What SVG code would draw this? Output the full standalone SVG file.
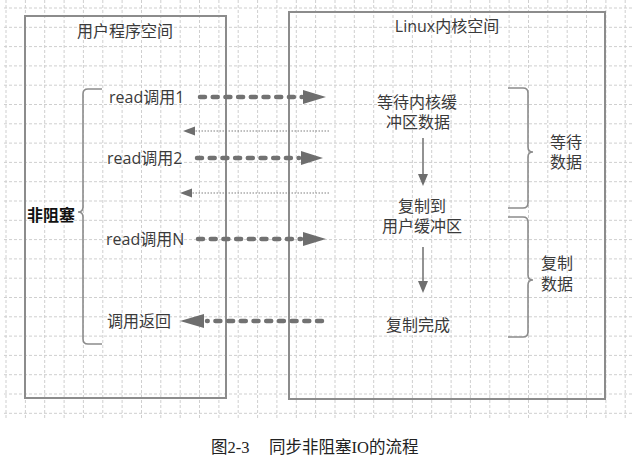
<svg xmlns="http://www.w3.org/2000/svg" width="640" height="461" viewBox="0 0 640 461">
<defs>
<style>
.grid line{stroke:#cfcfcf;stroke-width:1;stroke-dasharray:3,2}
.box{fill:none;stroke:#8c8c8c;stroke-width:2}
.t{font-family:"Open Sans","Noto Sans CJK SC",sans-serif;font-size:16px;fill:#3a3a3a;dominant-baseline:central}
.c{text-anchor:middle}
.b{font-weight:bold;fill:#111}
.thick{stroke:#727272;stroke-width:4.5;stroke-dasharray:5,7.7;stroke-linecap:round;fill:none}
.thin{stroke:#808080;stroke-width:1.2;stroke-dasharray:1.5,1.5;fill:none}
.head{fill:#6e6e6e}
.solid{stroke:#6e6e6e;stroke-width:1.5;fill:none}
.brace{fill:none;stroke:#8c8c8c;stroke-width:1.6}
.cap{font-family:"Liberation Serif","Noto Sans CJK SC",serif;font-size:16.5px;fill:#222}
</style>
</defs>
<rect width="640" height="461" fill="#fff"/>
<g class="grid" id="grid">
<line x1="6" y1="0" x2="6" y2="420"/><line x1="25.4" y1="0" x2="25.4" y2="420"/><line x1="44.7" y1="0" x2="44.7" y2="420"/><line x1="64.1" y1="0" x2="64.1" y2="420"/><line x1="83.4" y1="0" x2="83.4" y2="420"/><line x1="102.8" y1="0" x2="102.8" y2="420"/><line x1="122.1" y1="0" x2="122.1" y2="420"/><line x1="141.5" y1="0" x2="141.5" y2="420"/><line x1="160.8" y1="0" x2="160.8" y2="420"/><line x1="180.2" y1="0" x2="180.2" y2="420"/><line x1="199.5" y1="0" x2="199.5" y2="420"/><line x1="218.9" y1="0" x2="218.9" y2="420"/><line x1="238.2" y1="0" x2="238.2" y2="420"/><line x1="257.6" y1="0" x2="257.6" y2="420"/><line x1="276.9" y1="0" x2="276.9" y2="420"/><line x1="296.3" y1="0" x2="296.3" y2="420"/><line x1="315.6" y1="0" x2="315.6" y2="420"/><line x1="335" y1="0" x2="335" y2="420"/><line x1="354.3" y1="0" x2="354.3" y2="420"/><line x1="373.7" y1="0" x2="373.7" y2="420"/><line x1="393" y1="0" x2="393" y2="420"/><line x1="412.4" y1="0" x2="412.4" y2="420"/><line x1="431.7" y1="0" x2="431.7" y2="420"/><line x1="451.1" y1="0" x2="451.1" y2="420"/><line x1="470.4" y1="0" x2="470.4" y2="420"/><line x1="489.8" y1="0" x2="489.8" y2="420"/><line x1="509.1" y1="0" x2="509.1" y2="420"/><line x1="528.5" y1="0" x2="528.5" y2="420"/><line x1="547.8" y1="0" x2="547.8" y2="420"/><line x1="567.2" y1="0" x2="567.2" y2="420"/><line x1="586.5" y1="0" x2="586.5" y2="420"/><line x1="605.9" y1="0" x2="605.9" y2="420"/><line x1="625.2" y1="0" x2="625.2" y2="420"/>
<line x1="4" y1="8" x2="632" y2="8"/><line x1="4" y1="27.3" x2="632" y2="27.3"/><line x1="4" y1="46.6" x2="632" y2="46.6"/><line x1="4" y1="65.9" x2="632" y2="65.9"/><line x1="4" y1="85.2" x2="632" y2="85.2"/><line x1="4" y1="104.5" x2="632" y2="104.5"/><line x1="4" y1="123.8" x2="632" y2="123.8"/><line x1="4" y1="143.1" x2="632" y2="143.1"/><line x1="4" y1="162.4" x2="632" y2="162.4"/><line x1="4" y1="181.7" x2="632" y2="181.7"/><line x1="4" y1="201" x2="632" y2="201"/><line x1="4" y1="220.3" x2="632" y2="220.3"/><line x1="4" y1="239.6" x2="632" y2="239.6"/><line x1="4" y1="258.9" x2="632" y2="258.9"/><line x1="4" y1="278.2" x2="632" y2="278.2"/><line x1="4" y1="297.5" x2="632" y2="297.5"/><line x1="4" y1="316.8" x2="632" y2="316.8"/><line x1="4" y1="336.1" x2="632" y2="336.1"/><line x1="4" y1="355.4" x2="632" y2="355.4"/><line x1="4" y1="374.7" x2="632" y2="374.7"/><line x1="4" y1="394" x2="632" y2="394"/><line x1="4" y1="413.3" x2="632" y2="413.3"/>
</g>
<g id="user-space">
<rect class="box" x="25" y="16" width="201" height="382"/>
<text class="t c" x="125" y="31">用户程序空间</text>
</g>
<g id="kernel-space">
<rect class="box" x="289" y="12" width="316" height="387"/>
<text class="t c" x="447" y="26">Linux内核空间</text>
</g>
<g id="nonblocking">
<path class="brace" d="M102,89 H88 Q83,89 83,94 V207 Q83,212 78,212 Q83,212 83,217 V339 Q83,344 88,344 H102"/>
<text class="t b" x="27" y="215">非阻塞</text>
</g>
<g id="read1"><text class="t" x="109" y="97">read调用1</text></g>
<g id="read2"><text class="t" x="107" y="158">read调用2</text></g>
<g id="readN"><text class="t" x="106" y="239">read调用N</text></g>
<g id="return"><text class="t" x="107" y="321">调用返回</text></g>
<g id="wait-kernel"><text class="t c" x="417" y="102">等待内核缓</text><text class="t c" x="418" y="122">冲区数据</text></g>
<g id="copy-user"><text class="t c" x="422" y="206">复制到</text><text class="t c" x="422" y="226">用户缓冲区</text></g>
<g id="copy-done"><text class="t c" x="418" y="325">复制完成</text></g>
<g id="wait-data">
<path class="brace" d="M508,88 H523 Q528,88 528,93 V147 Q528,152 533,152 Q528,152 528,157 V203 Q528,208 523,208 H508"/>
<text class="t c" x="566" y="142">等待</text><text class="t c" x="566" y="162">数据</text>
</g>
<g id="copy-data">
<path class="brace" d="M508,217 H523 Q528,217 528,222 V275 Q528,280 533,280 Q528,280 528,285 V332 Q528,337 523,337 H508"/>
<text class="t c" x="557" y="263">复制</text><text class="t c" x="557" y="284">数据</text>
</g>
<g id="connectors">
<line class="thick" x1="200" y1="97" x2="302" y2="97"/><polygon class="head" points="303,90 326,97 303,104"/>
<line class="thin" x1="329" y1="131" x2="193" y2="131"/><polygon class="head" points="195,126.5 183,131 195,135.5"/>
<line class="thick" x1="197" y1="158" x2="299" y2="158"/><polygon class="head" points="301,151 323,158 301,165"/>
<line class="thin" x1="329" y1="193" x2="190" y2="193"/><polygon class="head" points="192,188.5 180,193 192,197.5"/>
<line class="thick" x1="198" y1="239" x2="301" y2="239"/><polygon class="head" points="303,232 326,239 303,246"/>
<line class="thick" x1="322" y1="321" x2="207" y2="321"/><polygon class="head" points="204,314 180,321 204,328"/>
<line class="solid" x1="423" y1="138" x2="423" y2="176"/><polygon class="head" points="418,174 423,186 428,174"/>
<line class="solid" x1="423" y1="247" x2="423" y2="283"/><polygon class="head" points="418,281 423,293 428,281"/>
</g>
<g id="caption">
<text class="cap" x="211" y="453">图2-3</text>
<text class="cap" x="269" y="453">同步非阻塞IO的流程</text>
</g>
</svg>
